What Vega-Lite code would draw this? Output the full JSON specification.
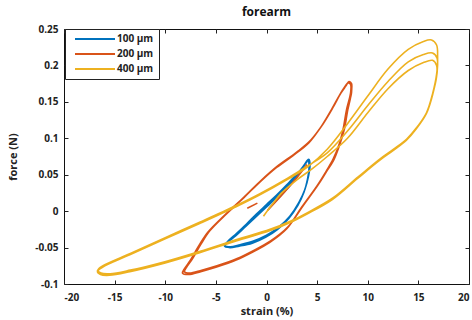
{
  "$schema": "https://vega.github.io/schema/vega-lite/v6.json",
  "width": 405,
  "height": 255,
  "autosize": {"type": "none"},
  "padding": {"left": 64, "top": 29, "right": 3, "bottom": 36},
  "background": "white",
  "config": {
    "view": {"stroke": "#111", "strokeWidth": 1},
    "font": "Open Sans",
    "axis": {
      "domain": false,
      "grid": false,
      "tickColor": "#222",
      "tickSize": -4,
      "tickWidth": 1,
      "labelPadding": 11,
      "labelFontSize": 10,
      "labelFontWeight": "bold",
      "labelColor": "#222",
      "titleFontSize": 11,
      "titleFontWeight": "bold",
      "titleColor": "#222"
    }
  },
  "title": {"text": "forearm", "fontSize": 12, "fontWeight": "bold", "offset": 5, "color": "#111", "font": "Open Sans"},
  "data": {
    "values": [
      {"s":"100 µm","g":"b","x":0.2,"y":0.003},{"s":"100 µm","g":"b","x":1.2,"y":0.018},{"s":"100 µm","g":"b","x":2.3,"y":0.035},{"s":"100 µm","g":"b","x":3.3,"y":0.053},{"s":"100 µm","g":"b","x":3.9,"y":0.066},{"s":"100 µm","g":"b","x":4.2,"y":0.071},
      {"s":"100 µm","g":"b","x":4.3,"y":0.064},{"s":"100 µm","g":"b","x":4.15,"y":0.048},{"s":"100 µm","g":"b","x":3.8,"y":0.03},{"s":"100 µm","g":"b","x":3.2,"y":0.012},{"s":"100 µm","g":"b","x":2.3,"y":-0.007},{"s":"100 µm","g":"b","x":1.2,"y":-0.022},{"s":"100 µm","g":"b","x":0,"y":-0.033},{"s":"100 µm","g":"b","x":-1.3,"y":-0.041},{"s":"100 µm","g":"b","x":-2.6,"y":-0.046},{"s":"100 µm","g":"b","x":-3.6,"y":-0.049},{"s":"100 µm","g":"b","x":-4.1,"y":-0.047},
      {"s":"100 µm","g":"b","x":-3.8,"y":-0.042},{"s":"100 µm","g":"b","x":-3.0,"y":-0.032},{"s":"100 µm","g":"b","x":-2.0,"y":-0.019},{"s":"100 µm","g":"b","x":-1.0,"y":-0.006},{"s":"100 µm","g":"b","x":0,"y":0.007},{"s":"100 µm","g":"b","x":1.0,"y":0.02},{"s":"100 µm","g":"b","x":2.0,"y":0.034},{"s":"100 µm","g":"b","x":3.0,"y":0.05},{"s":"100 µm","g":"b","x":3.7,"y":0.063},{"s":"100 µm","g":"b","x":4.15,"y":0.071},
      {"s":"100 µm","g":"b","x":4.25,"y":0.062},{"s":"100 µm","g":"b","x":4.1,"y":0.046},{"s":"100 µm","g":"b","x":3.75,"y":0.028},{"s":"100 µm","g":"b","x":3.15,"y":0.01},{"s":"100 µm","g":"b","x":2.25,"y":-0.009},{"s":"100 µm","g":"b","x":1.15,"y":-0.024},{"s":"100 µm","g":"b","x":-0.05,"y":-0.035},{"s":"100 µm","g":"b","x":-1.35,"y":-0.043},{"s":"100 µm","g":"b","x":-2.65,"y":-0.047},{"s":"100 µm","g":"b","x":-3.65,"y":-0.05},{"s":"100 µm","g":"b","x":-4.15,"y":-0.048},
      {"s":"100 µm","g":"b","x":-3.85,"y":-0.043},{"s":"100 µm","g":"b","x":-3.05,"y":-0.034},{"s":"100 µm","g":"b","x":-2.05,"y":-0.021},{"s":"100 µm","g":"b","x":-1.05,"y":-0.008},{"s":"100 µm","g":"b","x":-0.05,"y":0.005},{"s":"100 µm","g":"b","x":0.95,"y":0.018},{"s":"100 µm","g":"b","x":1.95,"y":0.032},{"s":"100 µm","g":"b","x":2.95,"y":0.048},{"s":"100 µm","g":"b","x":3.65,"y":0.061},{"s":"100 µm","g":"b","x":4.1,"y":0.07},
      {"s":"100 µm","g":"b","x":4.2,"y":0.06},{"s":"100 µm","g":"b","x":4.05,"y":0.044},{"s":"100 µm","g":"b","x":3.7,"y":0.026},{"s":"100 µm","g":"b","x":3.1,"y":0.008},{"s":"100 µm","g":"b","x":2.2,"y":-0.01},{"s":"100 µm","g":"b","x":1.1,"y":-0.025},{"s":"100 µm","g":"b","x":-0.1,"y":-0.036},{"s":"100 µm","g":"b","x":-1.4,"y":-0.044},{"s":"100 µm","g":"b","x":-2.7,"y":-0.048},{"s":"100 µm","g":"b","x":-3.7,"y":-0.05},{"s":"100 µm","g":"b","x":-4.1,"y":-0.047},
      {"s":"100 µm","g":"b","x":-3.8,"y":-0.041},{"s":"100 µm","g":"b","x":-3.0,"y":-0.031},{"s":"100 µm","g":"b","x":-2.0,"y":-0.018},{"s":"100 µm","g":"b","x":-1.0,"y":-0.004},{"s":"100 µm","g":"b","x":0,"y":0.009},{"s":"100 µm","g":"b","x":1.0,"y":0.022},{"s":"100 µm","g":"b","x":2.0,"y":0.036},{"s":"100 µm","g":"b","x":2.9,"y":0.05},

      {"s":"200 µm","g":"r0","x":0.1,"y":0.001},{"s":"200 µm","g":"r0","x":1.5,"y":0.022},{"s":"200 µm","g":"r0","x":3,"y":0.046},{"s":"200 µm","g":"r0","x":4,"y":0.064},
      {"s":"200 µm","g":"r2","x":-1.9,"y":0.004},{"s":"200 µm","g":"r2","x":-0.9,"y":0.011},
      {"s":"200 µm","g":"r1","x":-8.2,"y":-0.084},{"s":"200 µm","g":"r1","x":-7.6,"y":-0.07},{"s":"200 µm","g":"r1","x":-6.8,"y":-0.05},{"s":"200 µm","g":"r1","x":-5.9,"y":-0.031},{"s":"200 µm","g":"r1","x":-4.2,"y":-0.007},{"s":"200 µm","g":"r1","x":-2.5,"y":0.015},{"s":"200 µm","g":"r1","x":-0.8,"y":0.038},{"s":"200 µm","g":"r1","x":1,"y":0.06},{"s":"200 µm","g":"r1","x":2.6,"y":0.076},{"s":"200 µm","g":"r1","x":4.2,"y":0.094},{"s":"200 µm","g":"r1","x":5.4,"y":0.116},{"s":"200 µm","g":"r1","x":6.4,"y":0.139},{"s":"200 µm","g":"r1","x":7.2,"y":0.159},{"s":"200 µm","g":"r1","x":7.7,"y":0.17},{"s":"200 µm","g":"r1","x":8.05,"y":0.176},{"s":"200 µm","g":"r1","x":8.3,"y":0.174},
      {"s":"200 µm","g":"r1","x":8.3,"y":0.162},{"s":"200 µm","g":"r1","x":7.9,"y":0.139},{"s":"200 µm","g":"r1","x":7.6,"y":0.115},{"s":"200 µm","g":"r1","x":7.2,"y":0.093},{"s":"200 µm","g":"r1","x":6.6,"y":0.072},{"s":"200 µm","g":"r1","x":5.9,"y":0.055},{"s":"200 µm","g":"r1","x":5,"y":0.035},{"s":"200 µm","g":"r1","x":3.5,"y":0.006},{"s":"200 µm","g":"r1","x":2,"y":-0.024},{"s":"200 µm","g":"r1","x":0.3,"y":-0.043},{"s":"200 µm","g":"r1","x":-1.5,"y":-0.057},{"s":"200 µm","g":"r1","x":-3,"y":-0.067},{"s":"200 µm","g":"r1","x":-5,"y":-0.077},{"s":"200 µm","g":"r1","x":-6.5,"y":-0.083},{"s":"200 µm","g":"r1","x":-7.7,"y":-0.087},{"s":"200 µm","g":"r1","x":-8.3,"y":-0.085},
      {"s":"200 µm","g":"r1","x":-8.1,"y":-0.079},{"s":"200 µm","g":"r1","x":-7.5,"y":-0.067},{"s":"200 µm","g":"r1","x":-6.7,"y":-0.048},{"s":"200 µm","g":"r1","x":-5.8,"y":-0.029},{"s":"200 µm","g":"r1","x":-4.1,"y":-0.005},{"s":"200 µm","g":"r1","x":-2.4,"y":0.017},{"s":"200 µm","g":"r1","x":-0.7,"y":0.04},{"s":"200 µm","g":"r1","x":1.1,"y":0.062},{"s":"200 µm","g":"r1","x":2.7,"y":0.078},{"s":"200 µm","g":"r1","x":4.3,"y":0.096},{"s":"200 µm","g":"r1","x":5.5,"y":0.118},{"s":"200 µm","g":"r1","x":6.5,"y":0.141},{"s":"200 µm","g":"r1","x":7.25,"y":0.16},{"s":"200 µm","g":"r1","x":7.75,"y":0.171},{"s":"200 µm","g":"r1","x":8.1,"y":0.177},{"s":"200 µm","g":"r1","x":8.35,"y":0.175},
      {"s":"200 µm","g":"r1","x":8.4,"y":0.163},{"s":"200 µm","g":"r1","x":8.0,"y":0.14},{"s":"200 µm","g":"r1","x":7.7,"y":0.116},{"s":"200 µm","g":"r1","x":7.3,"y":0.094},{"s":"200 µm","g":"r1","x":6.7,"y":0.073},{"s":"200 µm","g":"r1","x":6.0,"y":0.056},{"s":"200 µm","g":"r1","x":5.1,"y":0.036},{"s":"200 µm","g":"r1","x":3.6,"y":0.007},{"s":"200 µm","g":"r1","x":2.1,"y":-0.022},{"s":"200 µm","g":"r1","x":0.4,"y":-0.041},{"s":"200 µm","g":"r1","x":-1.4,"y":-0.055},{"s":"200 µm","g":"r1","x":-2.9,"y":-0.065},{"s":"200 µm","g":"r1","x":-4.9,"y":-0.075},{"s":"200 µm","g":"r1","x":-6.4,"y":-0.081},{"s":"200 µm","g":"r1","x":-7.6,"y":-0.085},{"s":"200 µm","g":"r1","x":-8.1,"y":-0.083},
      {"s":"200 µm","g":"r1","x":-7.9,"y":-0.077},{"s":"200 µm","g":"r1","x":-7.3,"y":-0.065},{"s":"200 µm","g":"r1","x":-6.5,"y":-0.046},{"s":"200 µm","g":"r1","x":-5.6,"y":-0.027},{"s":"200 µm","g":"r1","x":-3.9,"y":-0.003},{"s":"200 µm","g":"r1","x":-2.2,"y":0.019},{"s":"200 µm","g":"r1","x":-0.5,"y":0.042},{"s":"200 µm","g":"r1","x":1.3,"y":0.064},{"s":"200 µm","g":"r1","x":2.9,"y":0.08},{"s":"200 µm","g":"r1","x":4.4,"y":0.098},{"s":"200 µm","g":"r1","x":5.6,"y":0.12},{"s":"200 µm","g":"r1","x":6.6,"y":0.143},{"s":"200 µm","g":"r1","x":7.35,"y":0.162},{"s":"200 µm","g":"r1","x":7.85,"y":0.172},{"s":"200 µm","g":"r1","x":8.15,"y":0.178},{"s":"200 µm","g":"r1","x":8.4,"y":0.175},
      {"s":"200 µm","g":"r1","x":8.35,"y":0.16},{"s":"200 µm","g":"r1","x":8.0,"y":0.137},{"s":"200 µm","g":"r1","x":7.7,"y":0.113},{"s":"200 µm","g":"r1","x":7.2,"y":0.09},{"s":"200 µm","g":"r1","x":6.6,"y":0.069},{"s":"200 µm","g":"r1","x":5.8,"y":0.052},{"s":"200 µm","g":"r1","x":4.9,"y":0.032},

      {"s":"400 µm","g":"y","x":-0.3,"y":-0.007},{"s":"400 µm","g":"y","x":0.5,"y":0.008},{"s":"400 µm","g":"y","x":1.5,"y":0.025},{"s":"400 µm","g":"y","x":3,"y":0.043},{"s":"400 µm","g":"y","x":4.5,"y":0.058},{"s":"400 µm","g":"y","x":6,"y":0.075},{"s":"400 µm","g":"y","x":8,"y":0.1},{"s":"400 µm","g":"y","x":10,"y":0.135},{"s":"400 µm","g":"y","x":12,"y":0.168},{"s":"400 µm","g":"y","x":14,"y":0.193},{"s":"400 µm","g":"y","x":15.5,"y":0.204},{"s":"400 µm","g":"y","x":16.4,"y":0.207},{"s":"400 µm","g":"y","x":16.8,"y":0.2},
      {"s":"400 µm","g":"y","x":16.8,"y":0.185},{"s":"400 µm","g":"y","x":16.4,"y":0.16},{"s":"400 µm","g":"y","x":15.8,"y":0.134},{"s":"400 µm","g":"y","x":14.8,"y":0.113},{"s":"400 µm","g":"y","x":13.8,"y":0.097},{"s":"400 µm","g":"y","x":12.5,"y":0.083},{"s":"400 µm","g":"y","x":11.2,"y":0.07},{"s":"400 µm","g":"y","x":9,"y":0.045},{"s":"400 µm","g":"y","x":6.5,"y":0.016},{"s":"400 µm","g":"y","x":4,"y":-0.004},{"s":"400 µm","g":"y","x":2.3,"y":-0.016},{"s":"400 µm","g":"y","x":0.3,"y":-0.027},{"s":"400 µm","g":"y","x":-3,"y":-0.041},{"s":"400 µm","g":"y","x":-6.6,"y":-0.057},{"s":"400 µm","g":"y","x":-10,"y":-0.071},{"s":"400 µm","g":"y","x":-13.5,"y":-0.083},{"s":"400 µm","g":"y","x":-15.5,"y":-0.088},{"s":"400 µm","g":"y","x":-16.4,"y":-0.087},{"s":"400 µm","g":"y","x":-16.7,"y":-0.083},
      {"s":"400 µm","g":"y","x":-16.2,"y":-0.077},{"s":"400 µm","g":"y","x":-13.5,"y":-0.06},{"s":"400 µm","g":"y","x":-10,"y":-0.038},{"s":"400 µm","g":"y","x":-6.6,"y":-0.017},{"s":"400 µm","g":"y","x":-3,"y":0.006},{"s":"400 µm","g":"y","x":-0.7,"y":0.022},{"s":"400 µm","g":"y","x":2,"y":0.043},{"s":"400 µm","g":"y","x":4,"y":0.06},{"s":"400 µm","g":"y","x":6,"y":0.085},{"s":"400 µm","g":"y","x":8,"y":0.12},{"s":"400 µm","g":"y","x":10,"y":0.158},{"s":"400 µm","g":"y","x":12,"y":0.195},{"s":"400 µm","g":"y","x":14,"y":0.222},{"s":"400 µm","g":"y","x":15.5,"y":0.233},{"s":"400 µm","g":"y","x":16.3,"y":0.235},{"s":"400 µm","g":"y","x":16.8,"y":0.228},{"s":"400 µm","g":"y","x":16.9,"y":0.212},
      {"s":"400 µm","g":"y","x":16.85,"y":0.19},{"s":"400 µm","g":"y","x":16.45,"y":0.162},{"s":"400 µm","g":"y","x":15.85,"y":0.136},{"s":"400 µm","g":"y","x":14.85,"y":0.115},{"s":"400 µm","g":"y","x":13.85,"y":0.099},{"s":"400 µm","g":"y","x":12.55,"y":0.085},{"s":"400 µm","g":"y","x":11.25,"y":0.072},{"s":"400 µm","g":"y","x":9.05,"y":0.047},{"s":"400 µm","g":"y","x":6.55,"y":0.018},{"s":"400 µm","g":"y","x":4.05,"y":-0.002},{"s":"400 µm","g":"y","x":2.35,"y":-0.014},{"s":"400 µm","g":"y","x":0.35,"y":-0.025},{"s":"400 µm","g":"y","x":-2.95,"y":-0.039},{"s":"400 µm","g":"y","x":-6.55,"y":-0.055},{"s":"400 µm","g":"y","x":-9.95,"y":-0.069},{"s":"400 µm","g":"y","x":-13.45,"y":-0.081},{"s":"400 µm","g":"y","x":-15.45,"y":-0.086},{"s":"400 µm","g":"y","x":-16.35,"y":-0.085},{"s":"400 µm","g":"y","x":-16.65,"y":-0.081},
      {"s":"400 µm","g":"y","x":-16.15,"y":-0.075},{"s":"400 µm","g":"y","x":-13.45,"y":-0.058},{"s":"400 µm","g":"y","x":-9.95,"y":-0.036},{"s":"400 µm","g":"y","x":-6.55,"y":-0.015},{"s":"400 µm","g":"y","x":-2.95,"y":0.008},{"s":"400 µm","g":"y","x":-0.65,"y":0.024},{"s":"400 µm","g":"y","x":2.05,"y":0.045},{"s":"400 µm","g":"y","x":4.05,"y":0.062},{"s":"400 µm","g":"y","x":6,"y":0.08},{"s":"400 µm","g":"y","x":8,"y":0.11},{"s":"400 µm","g":"y","x":10,"y":0.145},{"s":"400 µm","g":"y","x":12,"y":0.178},{"s":"400 µm","g":"y","x":14,"y":0.205},{"s":"400 µm","g":"y","x":15.5,"y":0.215},{"s":"400 µm","g":"y","x":16.4,"y":0.217},{"s":"400 µm","g":"y","x":16.85,"y":0.21},
      {"s":"400 µm","g":"y","x":16.8,"y":0.188},{"s":"400 µm","g":"y","x":16.4,"y":0.161},{"s":"400 µm","g":"y","x":15.8,"y":0.135},{"s":"400 µm","g":"y","x":14.8,"y":0.114},{"s":"400 µm","g":"y","x":13.8,"y":0.098},{"s":"400 µm","g":"y","x":12.5,"y":0.084},{"s":"400 µm","g":"y","x":11.2,"y":0.071},{"s":"400 µm","g":"y","x":9,"y":0.046},{"s":"400 µm","g":"y","x":6.5,"y":0.017},{"s":"400 µm","g":"y","x":4,"y":-0.003},{"s":"400 µm","g":"y","x":2.3,"y":-0.015},{"s":"400 µm","g":"y","x":0.3,"y":-0.026},{"s":"400 µm","g":"y","x":-3,"y":-0.04},{"s":"400 µm","g":"y","x":-6.6,"y":-0.056},{"s":"400 µm","g":"y","x":-10,"y":-0.07},{"s":"400 µm","g":"y","x":-13.5,"y":-0.082},{"s":"400 µm","g":"y","x":-15.5,"y":-0.087},{"s":"400 µm","g":"y","x":-16.4,"y":-0.086},{"s":"400 µm","g":"y","x":-16.7,"y":-0.082},
      {"s":"400 µm","g":"y","x":-16.2,"y":-0.076},{"s":"400 µm","g":"y","x":-13.5,"y":-0.059},{"s":"400 µm","g":"y","x":-10,"y":-0.037},{"s":"400 µm","g":"y","x":-6.6,"y":-0.016},{"s":"400 µm","g":"y","x":-3,"y":0.007},{"s":"400 µm","g":"y","x":-0.7,"y":0.023},{"s":"400 µm","g":"y","x":1.5,"y":0.04}
    ]
  },
  "layer": [
    {
      "mark": {"type": "line", "interpolate": "catmull-rom", "strokeWidth": 1.6},
      "encoding": {
        "x": {
          "field": "x", "type": "quantitative",
          "scale": {"domain": [-20, 20], "nice": false, "zero": false},
          "axis": {"values": [-20, -15, -10, -5, 0, 5, 10, 15, 20], "labelExpr": "replace(format(datum.value, '~g'), '−', '-')", "labelPadding": 12, "title": "strain (%)", "titlePadding": 3}
        },
        "y": {
          "field": "y", "type": "quantitative",
          "scale": {"domain": [-0.1, 0.25], "nice": false, "zero": false},
          "axis": {"values": [-0.1, -0.05, 0, 0.05, 0.1, 0.15, 0.2, 0.25], "labelExpr": "replace(format(datum.value, '~g'), '−', '-')", "labelPadding": 10, "title": "force (N)", "titlePadding": 16}
        },
        "color": {
          "field": "s", "type": "nominal",
          "scale": {"domain": ["100 µm", "200 µm", "400 µm"], "range": ["#0072BD", "#D95319", "#EDB120"]},
          "legend": {
            "title": null, "orient": "none", "legendX": 1, "legendY": 0,
            "strokeColor": "#222", "fillColor": "white", "padding": 5,
            "symbolType": "M0,0H40", "symbolSize": 4, "symbolStrokeWidth": 2,
            "labelOffset": 37, "labelFontSize": 10, "labelFontWeight": "bold", "labelColor": "#222",
            "rowPadding": 5
          }
        },
        "detail": {"field": "g"},
        "order": {"value": null}
      }
    },
    {
      "mark": {"type": "point", "opacity": 0},
      "encoding": {
        "x": {"field": "x", "type": "quantitative", "axis": {"orient": "top", "labels": false, "title": null, "values": [-20, -15, -10, -5, 0, 5, 10, 15, 20]}},
        "y": {"field": "y", "type": "quantitative", "axis": {"orient": "right", "labels": false, "title": null, "values": [-0.1, -0.05, 0, 0.05, 0.1, 0.15, 0.2, 0.25]}}
      }
    }
  ],
  "resolve": {"axis": {"x": "independent", "y": "independent"}}
}
